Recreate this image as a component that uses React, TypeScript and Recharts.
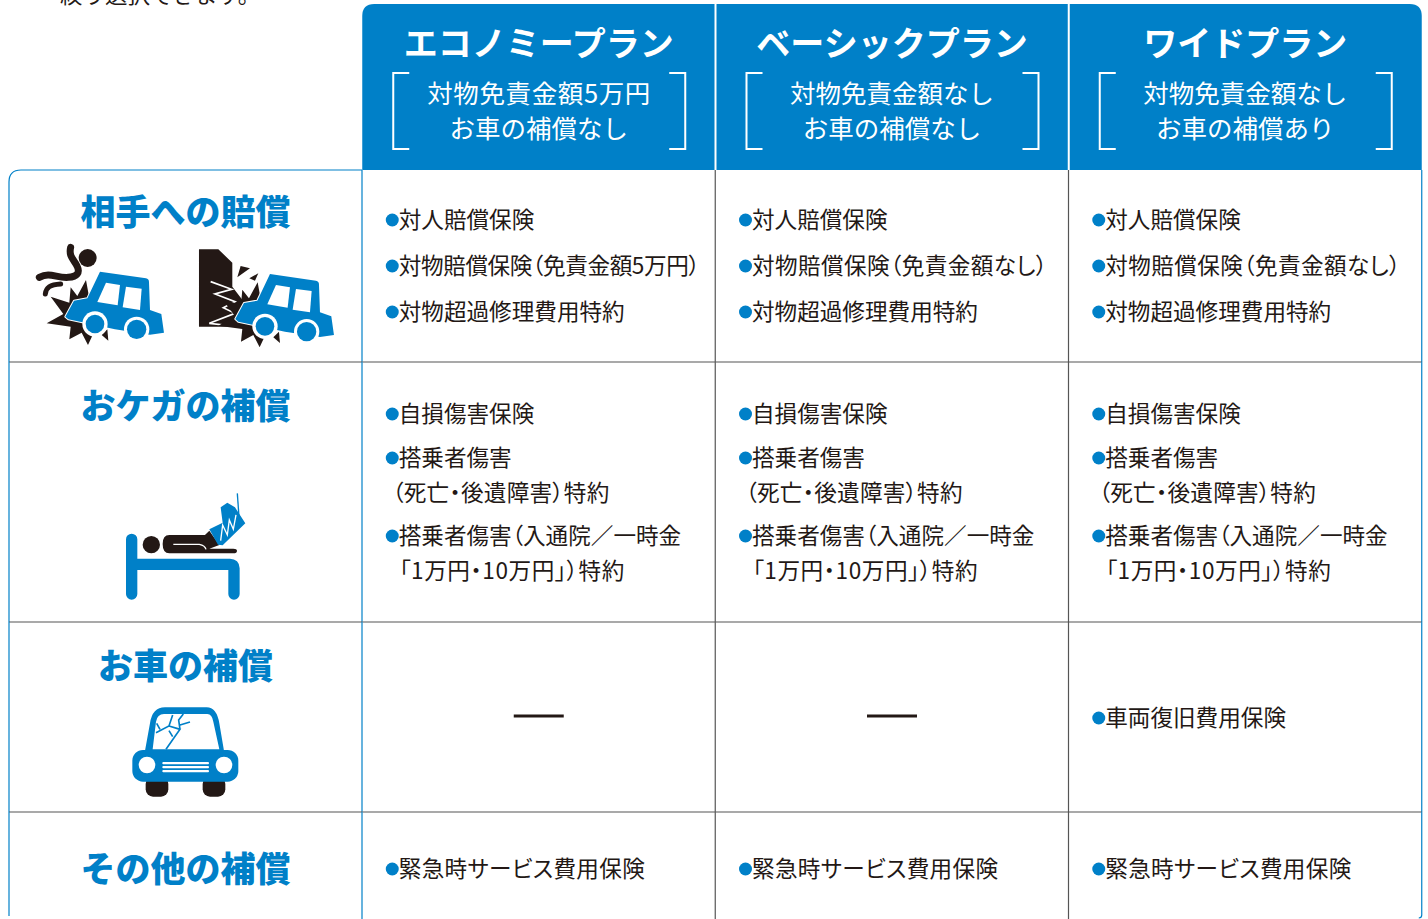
import React from 'react';
import { BarChart, Bar, XAxis, YAxis } from 'recharts';

const BLUE = '#0080c8';
const INK = '#231815';
const RULE = '#555555';
const FONT = '"Noto Sans CJK JP", "Noto Sans", sans-serif';

const columns = ['補償内容', 'エコノミープラン', 'ベーシックプラン', 'ワイドプラン'];
const leadText = '絞り選択できます。';
const deductibleLabels = ['対物免責金額5万円', '対物免責金額なし', '対物免責金額なし'];
const carCoverLabels = ['お車の補償なし', 'お車の補償なし', 'お車の補償あり'];
const rowTitles = ['相手への賠償', 'おケガの補償', 'お車の補償', 'その他の補償'];

// row heights are what gets stacked, so each table row is one series
const headerHeights = [166, 166, 166, 166];
const liabilityHeights = [192, 192, 192, 192];
const injuryHeights = [260, 260, 260, 260];
const carHeights = [190, 190, 190, 190];
const otherHeights = [107, 107, 107, 107];

const liabilityItems = [
  ['対人賠償保険', '対物賠償保険（免責金額5万円）', '対物超過修理費用特約'],
  ['対人賠償保険', '対物賠償保険（免責金額なし）', '対物超過修理費用特約'],
  ['対人賠償保険', '対物賠償保険（免責金額なし）', '対物超過修理費用特約'],
];
const injuryItems = ['自損傷害保険', '搭乗者傷害', '（死亡・後遺障害）特約', '搭乗者傷害（入通院／一時金', '「1万円・10万円」）特約'];
const carItems = [[], [], ['車両復旧費用保険']];
const otherItem = '緊急時サービス費用保険';

const chartData = columns.map((column, i) => ({
  column,
  header: headerHeights[i],
  liability: liabilityHeights[i],
  injury: injuryHeights[i],
  car: carHeights[i],
  other: otherHeights[i],
}));

// the original face sets these lines a little differently from Noto, so fit them
const lineFit: Record<string, { dx?: number; len?: number }> = {
  '対物賠償保険（免責金額5万円）': { len: 301 },
  '対物賠償保険（免責金額なし）': { len: 295 },
  '緊急時サービス費用保険': { len: 246 },
  '（死亡・後遺障害）特約': { dx: 30, len: 217 },
  '「1万円・10万円」）特約': { dx: 37, len: 225 },
};

const Label = ({ x, y, size, fill = INK, weight = 400, anchor = 'start', palt = true, len, children }: any) => (
  <text
    x={x}
    y={y + size * 0.36}
    fontSize={size}
    fill={fill}
    fontWeight={weight}
    textAnchor={anchor}
    fontFamily={FONT}
    textLength={len}
    lengthAdjust={len ? 'spacing' : undefined}
    style={palt ? { fontFeatureSettings: '"palt"' } : undefined}
  >
    {children}
  </text>
);

const ItemList = ({ x, y, items, offsets, plain = [] }: any) => (
  <g>
    {items.map((item: string, i: number) => {
      const cont = plain.includes(i);
      const fit = lineFit[item] || {};
      return (
        <g key={item + i}>
          {!cont && <circle cx={x + 30} cy={y + offsets[i]} r={6.5} fill={BLUE} />}
          <Label x={x + (fit.dx ?? 36.5)} y={y + offsets[i]} size={22.6} len={fit.len}>
            {item}
          </Label>
        </g>
      );
    })}
  </g>
);

// icons are traced in 3x zoom coordinates
const Burst = ({ dx = 0, dy = 0 }: any) => (
  <g transform={`translate(${dx} ${dy})`} fill={INK}>
    <polygon points="212,352 232,378 258,330 268,385 300,480 278,495 264,525 245,488 208,508 212,470 140,460 190,432 152,380 208,398" />
    <polygon points="322,478 305,495 325,512" />
  </g>
);

const SideCar = ({ dx = 0, dy = 0 }: any) => (
  <g transform={`translate(${dx} ${dy})`}>
    <path
      d="M300,305 L438,325 Q447,327 447,336 L450,420 L484,432 L492,488 L450,494 L345,478 L205,448 L196,440 L222,392 L262,385 Z"
      fill={BLUE}
      stroke="#fff"
      strokeWidth={6}
      strokeLinejoin="round"
      paintOrder="stroke"
    />
    <polygon points="318,338 360,345 353,406 292,396" fill="#fff" />
    <polygon points="378,350 425,356 420,420 368,412" fill="#fff" />
    <circle cx={285} cy={462} r={38} fill="#fff" />
    <circle cx={285} cy={462} r={28} fill={BLUE} />
    <circle cx={410} cy={478} r={38} fill="#fff" />
    <circle cx={410} cy={478} r={29} fill={BLUE} />
  </g>
);

const CrashIcons = () => (
  <g transform="translate(0 170) scale(0.3333)">
    <circle cx={263} cy={264} r={27} fill={INK} />
    <path d="M118,322 C150,305 170,325 205,322 C232,320 240,308 232,290 C224,270 205,262 212,232" fill="none" stroke={INK} strokeWidth={21} strokeLinecap="round" />
    <path d="M136,372 C138,352 150,344 182,342" fill="none" stroke={INK} strokeWidth={15} strokeLinecap="round" />
    <Burst />
    <SideCar />
    <polygon points="597,238 655,238 697,278 697,350 735,400 735,470 597,470" fill={INK} />
    <polyline points="632,335 695,358 645,372 705,395 670,413 705,430 628,460 700,468" fill="none" stroke="#fff" strokeWidth={5} />
    <polygon points="722,288 750,295 712,322" fill={INK} />
    <polygon points="775,310 748,325 765,332" fill={INK} />
    <Burst dx={515} dy={7} />
    <SideCar dx={510} dy={7} />
  </g>
);

const BedIcon = () => (
  <g transform="translate(90 470) scale(0.3333)">
    <path d="M125,208 V372 M125,283 H420 Q432,283 432,295 V372" fill="none" stroke={BLUE} strokeWidth={34} strokeLinecap="round" />
    <circle cx={184} cy={224} r={26} fill={INK} />
    <path d="M238,195 H345 L358,182 L388,225 L358,236 H430 Q441,236 441,242 Q441,250 430,250 H238 Q218,250 218,222 Q218,195 238,195 Z" fill={INK} />
    <path d="M250,223 H328 Q345,226 348,238" fill="none" stroke="#fff" strokeWidth={4} />
    <polygon points="358,178 398,158 392,112 412,98 435,112 466,160 398,226 384,224" fill={BLUE} />
    <polyline points="392,212 398,165 412,195 418,150 430,178 438,135" fill="none" stroke="#fff" strokeWidth={4} />
    <line x1={442} y1={70} x2={447} y2={140} stroke={BLUE} strokeWidth={4} />
  </g>
);

const FrontCarIcon = () => (
  <g transform="translate(100 690) scale(0.3333)">
    <rect x={137} y={260} width={68} height={60} rx={22} fill={INK} />
    <rect x={308} y={260} width={68} height={60} rx={22} fill={INK} />
    <path d="M150,100 Q157,52 195,52 H320 Q350,52 358,100 L372,182 H135 Z" fill={BLUE} />
    <rect x={97} y={180} width={318} height={95} rx={32} fill={BLUE} />
    <path d="M192,72 H322 Q336,72 340,95 L358,178 H158 L168,95 Q172,72 192,72 Z" fill="#fff" />
    <path d="M218,75 L207,108 L168,128 M207,108 L240,118 L198,178 M240,118 L236,90 L250,72 M240,105 L270,96 M180,118 L170,100 M207,122 L218,140" fill="none" stroke={BLUE} strokeWidth={5} />
    <circle cx={141} cy={225} r={25} fill="#fff" />
    <circle cx={372} cy={225} r={25} fill="#fff" />
    <rect x={187} y={216} width={140} height={7} rx={3} fill="#fff" />
    <rect x={187} y={228} width={140} height={7} rx={3} fill="#fff" />
    <rect x={187} y={240} width={140} height={7} rx={3} fill="#fff" />
  </g>
);

// with the reversed axis a bar arrives with y at its lower edge and a negative height
const normalized = (Cell: any) => (props: any) => {
  const top = Math.min(props.y, props.y + props.height);
  return <Cell {...props} y={top} height={Math.abs(props.height)} />;
};

const HeaderCell = ({ x, y, width, height, index }: any) => {
  if (index === 0) {
    return (
      <Label x={60} y={y - 9} size={22.5} palt={false}>
        {leadText}
      </Label>
    );
  }
  const cx = x + width / 2;
  const r = 12;
  const tl = index === 1 ? r : 0;
  const tr = index === 3 ? r : 0;
  const d = `M${x},${y + height} V${y + tl} Q${x},${y} ${x + tl},${y} H${x + width - tr} Q${x + width},${y} ${x + width},${y + tr} V${y + height} Z`;
  return (
    <g>
      <path d={d} fill={BLUE} />
      {index > 1 && <line x1={x} y1={y} x2={x} y2={y + height} stroke="#fff" strokeWidth={2} />}
      <Label x={cx} y={y + 40} size={34} fill="#fff" weight={700} anchor="middle" palt={false}>
        {columns[index]}
      </Label>
      <Label x={cx} y={y + 90} size={25.5} fill="#fff" anchor="middle" palt={false} len={index === 1 ? 223 : undefined}>
        {deductibleLabels[index - 1]}
      </Label>
      <Label x={cx} y={y + 125} size={25.5} fill="#fff" anchor="middle" palt={false}>
        {carCoverLabels[index - 1]}
      </Label>
      <path d={`M${x + 47},${y + 69} H${x + 31} V${y + 145} H${x + 47}`} fill="none" stroke="#fff" strokeWidth={2} />
      <path d={`M${x + width - 46},${y + 69} H${x + width - 30} V${y + 145} H${x + width - 46}`} fill="none" stroke="#fff" strokeWidth={2} />
    </g>
  );
};

const CellFrame = ({ x, y, width, height, index, first = false, last = false }: any) => {
  const bottom = y + height;
  const right = x + width;
  if (index === 0) {
    return (
      <g>
        {first ? (
          <path d={`M${right},${y} H${x + 12} Q${x},${y} ${x},${y + 12} V${bottom}`} fill="none" stroke={BLUE} strokeWidth={1.2} />
        ) : (
          <line x1={x} y1={y} x2={x} y2={last ? bottom - 3 : bottom} stroke={BLUE} strokeWidth={1.2} />
        )}
        <line x1={right} y1={y} x2={right} y2={bottom} stroke={BLUE} strokeWidth={1.2} />
        {!last && <line x1={x} y1={bottom} x2={right} y2={bottom} stroke={RULE} strokeWidth={1.2} />}
      </g>
    );
  }
  return (
    <g>
      {index === 3 && last ? (
        <path d={`M${right},${y} V${bottom - 4} Q${right},${bottom - 1} ${right - 3},${bottom - 1}`} fill="none" stroke={BLUE} strokeWidth={1.2} />
      ) : (
        <line x1={right} y1={y} x2={right} y2={bottom} stroke={index === 3 ? BLUE : RULE} strokeWidth={1.2} />
      )}
      {!last && <line x1={x} y1={bottom} x2={right} y2={bottom} stroke={RULE} strokeWidth={1.2} />}
    </g>
  );
};

const RowTitle = ({ x, y, width, dy, text }: any) => (
  <Label x={x + width / 2} y={y + dy} size={35} fill={BLUE} weight={900} anchor="middle" palt={false}>
    {text}
  </Label>
);

const LiabilityCell = (props: any) => {
  const { x, y, width, index } = props;
  return (
    <g>
      <CellFrame {...props} first />
      {index === 0 ? (
        <g>
          <RowTitle x={x} y={y} width={width} dy={42} text={rowTitles[0]} />
          <CrashIcons />
        </g>
      ) : (
        <ItemList x={x} y={y} items={liabilityItems[index - 1]} offsets={[50, 96, 142]} />
      )}
    </g>
  );
};

const InjuryCell = (props: any) => {
  const { x, y, width, index } = props;
  return (
    <g>
      <CellFrame {...props} />
      {index === 0 ? (
        <g>
          <RowTitle x={x} y={y} width={width} dy={44} text={rowTitles[1]} />
          <BedIcon />
        </g>
      ) : (
        <ItemList x={x} y={y} items={injuryItems} offsets={[52, 96, 131, 174, 209]} plain={[2, 4]} />
      )}
    </g>
  );
};

const CarCell = (props: any) => {
  const { x, y, width, index } = props;
  const items = index > 0 ? carItems[index - 1] : [];
  return (
    <g>
      <CellFrame {...props} />
      {index === 0 && (
        <g>
          <RowTitle x={x} y={y} width={width} dy={44} text={rowTitles[2]} />
          <FrontCarIcon />
        </g>
      )}
      {index > 0 && items.length === 0 && (
        <line x1={x + width / 2 - 25} y1={y + 94} x2={x + width / 2 + 25} y2={y + 94} stroke={INK} strokeWidth={3} />
      )}
      {items.length > 0 && <ItemList x={x} y={y} items={items} offsets={[96]} />}
    </g>
  );
};

const OtherCell = (props: any) => {
  const { x, y, width, index } = props;
  return (
    <g>
      <CellFrame {...props} last />
      {index === 0 ? (
        <RowTitle x={x} y={y} width={width} dy={57} text={rowTitles[3]} />
      ) : (
        <ItemList x={x} y={y} items={[otherItem]} offsets={[57]} />
      )}
    </g>
  );
};

export default function App() {
  return (
    <div style={{ position: 'absolute', left: 0, top: 0, width: 1428, height: 919, overflow: 'hidden', background: '#fff' }}>
      <BarChart
        width={1428}
        height={919}
        data={chartData}
        barCategoryGap={0}
        margin={{ top: 4, right: 6, bottom: 0, left: 9 }}
      >
        <XAxis dataKey="column" hide />
        <YAxis type="number" domain={[0, 915]} reversed hide />
        <Bar dataKey="header" stackId="table" shape={normalized(HeaderCell)} isAnimationActive={false} />
        <Bar dataKey="liability" stackId="table" shape={normalized(LiabilityCell)} isAnimationActive={false} />
        <Bar dataKey="injury" stackId="table" shape={normalized(InjuryCell)} isAnimationActive={false} />
        <Bar dataKey="car" stackId="table" shape={normalized(CarCell)} isAnimationActive={false} />
        <Bar dataKey="other" stackId="table" shape={normalized(OtherCell)} isAnimationActive={false} />
      </BarChart>
    </div>
  );
}
